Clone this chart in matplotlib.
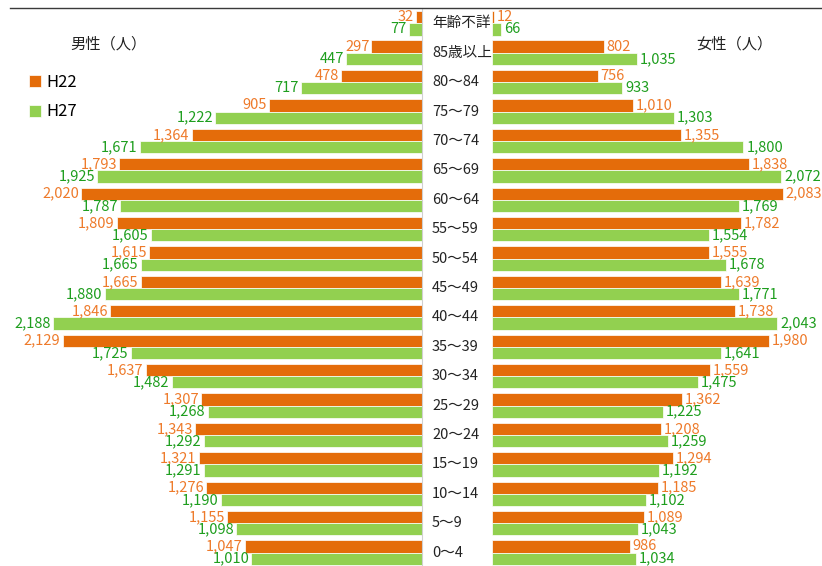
import numpy as np
import matplotlib
matplotlib.use("Agg")
import matplotlib.pyplot as plt
from matplotlib.lines import Line2D
from matplotlib.transforms import blended_transform_factory

plt.rcParams['font.family'] = ['Noto Sans CJK JP', 'DejaVu Sans']

##### DATA #####

ages = ['年齢不詳', '85歳以上', '80～84', '75～79', '70～74', '65～69', '60～64',
        '55～59', '50～54', '45～49', '40～44', '35～39', '30～34', '25～29',
        '20～24', '15～19', '10～14', '5～9', '0～4']

male_h22 = [32, 297, 478, 905, 1364, 1793, 2020, 1809, 1615, 1665, 1846, 2129,
            1637, 1307, 1343, 1321, 1276, 1155, 1047]
male_h27 = [77, 447, 717, 1222, 1671, 1925, 1787, 1605, 1665, 1880, 2188, 1725,
            1482, 1268, 1292, 1291, 1190, 1098, 1010]
female_h22 = [12, 802, 756, 1010, 1355, 1838, 2083, 1782, 1555, 1639, 1738, 1980,
              1559, 1362, 1208, 1294, 1185, 1089, 986]
female_h27 = [66, 1035, 933, 1303, 1800, 2072, 1769, 1554, 1678, 1771, 2043, 1641,
              1475, 1225, 1259, 1192, 1102, 1043, 1034]

series = ['H22', 'H27']

##### STYLE #####

bar_orange = '#E46C0A'
bar_green = '#92D050'
txt_orange = '#EE7A2A'
txt_green = '#1E9E1E'

W, H = 822, 566
fig = plt.figure(figsize=(W / 100, H / 100), dpi=100)

ax_m = fig.add_axes([0, 0, 421.5 / W, 1])
ax_f = fig.add_axes([492 / W, 0, 330 / W, 1])

y = np.arange(len(ages))
bh = 0.415

for ax in (ax_m, ax_f):
    ax.set_ylim(18.459, -0.7925)
    ax.set_xticks([])
    ax.set_yticks([])
    for s in ax.spines.values():
        s.set_visible(False)
    ax.patch.set_alpha(0)

ax_m.set_xlim(2500, 0)
ax_f.set_xlim(0, 2362)
ax_m.spines['right'].set_visible(True)
ax_m.spines['right'].set_color('#D0D0D0')
ax_m.spines['right'].set_linewidth(0.8)
ax_m.spines['right'].set_bounds(18.459, -0.5)

ax_m.barh(y - bh / 2, male_h22, height=bh, color=bar_orange,
          edgecolor='white', linewidth=0.5, label=series[0])
ax_m.barh(y + bh / 2, male_h27, height=bh, color=bar_green,
          edgecolor='white', linewidth=0.5, label=series[1])
ax_f.barh(y - bh / 2, female_h22, height=bh, color=bar_orange,
          edgecolor='white', linewidth=0.5)
ax_f.barh(y + bh / 2, female_h27, height=bh, color=bar_green,
          edgecolor='white', linewidth=0.5)

# value labels at the bar ends
fs = 10.5
for i in range(len(ages)):
    ax_m.annotate(f'{male_h22[i]:,}', (male_h22[i], y[i] - bh / 2), xytext=(-1.5, 0),
                  textcoords='offset points', ha='right', va='center',
                  color=txt_orange, fontsize=fs, annotation_clip=False)
    ax_m.annotate(f'{male_h27[i]:,}', (male_h27[i], y[i] + bh / 2), xytext=(-1.5, 0),
                  textcoords='offset points', ha='right', va='center',
                  color=txt_green, fontsize=fs, annotation_clip=False)
    ax_f.annotate(f'{female_h22[i]:,}', (female_h22[i], y[i] - bh / 2), xytext=(2, 0),
                  textcoords='offset points', ha='left', va='center',
                  color=txt_orange, fontsize=fs, annotation_clip=False)
    ax_f.annotate(f'{female_h27[i]:,}', (female_h27[i], y[i] + bh / 2), xytext=(2, 0),
                  textcoords='offset points', ha='left', va='center',
                  color=txt_green, fontsize=fs, annotation_clip=False)

# age labels between the two halves
trans = blended_transform_factory(fig.transFigure, ax_m.transData)
for i, a in enumerate(ages):
    fig.text(432 / W, y[i], a, transform=trans, ha='left', va='center',
             fontsize=10.5, color='#222222')

fig.text(70 / W, 1 - 44 / H, '男性（人）', ha='left', va='center', fontsize=11, color='#222222')
fig.text(696 / W, 1 - 44 / H, '女性（人）', ha='left', va='center', fontsize=11, color='#222222')

# top rule
fig.add_artist(Line2D([10 / W, 1], [1 - 8 / H, 1 - 8 / H], color='#3A3A3A', lw=1.0))

ax_m.legend(loc='upper left', bbox_to_anchor=(29 / W, 1 - 74 / H), bbox_transform=fig.transFigure,
            frameon=False, fontsize=12, handlelength=0.7, handleheight=0.75,
            handletextpad=0.35, labelspacing=0.75, borderpad=0, borderaxespad=0)

fig.savefig('out.png', dpi=100)
